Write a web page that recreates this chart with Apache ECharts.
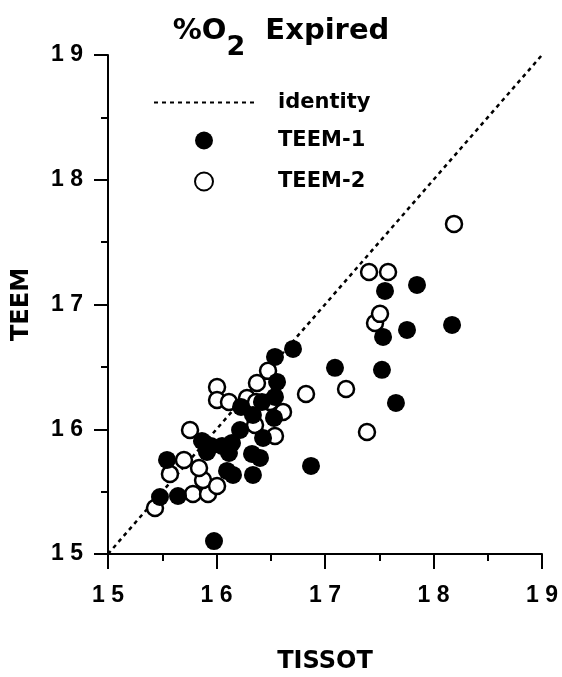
<!DOCTYPE html>
<html>
<head>
<meta charset="utf-8">
<script src="https://cdn.jsdelivr.net/npm/echarts@6/dist/echarts.min.js"></script>
<style>
html,body{margin:0;padding:0;background:#fff;}
#chart{width:562px;height:677px;}
</style>
</head>
<body>
<div id="chart"></div>
<script>
// Tick values for both axes
var axisTicks = [15, 16, 17, 18, 19];
// Identity line endpoints
var identityLine = [[15, 15], [19, 19]];
// TEEM-1 (filled circles): [TISSOT, TEEM]
var teem1 = [
  [15.977, 15.104], [15.479, 15.457], [15.645, 15.465], [15.544, 15.754],
  [15.866, 15.906], [15.949, 15.866], [16.051, 15.866], [16.143, 15.890],
  [15.912, 15.818], [16.097, 15.666], [16.152, 15.634], [16.217, 15.994],
  [16.226, 16.179], [16.336, 16.115], [16.327, 15.802], [16.401, 15.770],
  [16.336, 15.634], [16.429, 15.930], [16.530, 16.091], [16.539, 16.259],
  [16.558, 16.379], [16.539, 16.580], [16.705, 16.644], [16.871, 15.706],
  [17.092, 16.492], [17.525, 16.476], [17.535, 16.740], [17.553, 17.109],
  [17.756, 16.796], [17.848, 17.157], [18.171, 16.836], [17.654, 16.211],
  [16.419, 16.219], [16.115, 15.810]
];
// TEEM-2 (open circles): [TISSOT, TEEM]
var teem2 = [
  [15.433, 15.369], [15.783, 15.481], [15.922, 15.481], [15.571, 15.642],
  [15.876, 15.593], [16.005, 15.545], [15.839, 15.690], [15.700, 15.754],
  [15.756, 15.994], [16.005, 16.339], [16.005, 16.235], [16.115, 16.219],
  [16.281, 16.251], [16.373, 16.371], [16.475, 16.468], [16.364, 16.219],
  [16.613, 16.139], [16.355, 16.034], [16.539, 15.946], [16.825, 16.283],
  [17.194, 16.323], [17.387, 15.978], [17.461, 16.852], [17.507, 16.925],
  [17.406, 17.261], [17.581, 17.261], [18.189, 17.646], [16.493, 16.219]
];

var fontFam = 'Liberation Sans, Arial, Helvetica, sans-serif';
var wideFam = 'DejaVu Sans, Verdana, sans-serif';
function spaced(v) { return String(v).split('').join(' '); }

var chart = echarts.init(document.getElementById('chart'), null, {renderer: 'canvas'});
chart.setOption({
  backgroundColor: '#fff',
  animation: false,
  title: {
    text: '{a|%O}{s|2}{a|  Expired}',
    left: 'center',
    top: 12,
    textStyle: {
      rich: {
        a: {fontSize: 29, fontWeight: 'bold', fontFamily: wideFam, color: '#000', verticalAlign: 'top', lineHeight: 29},
        s: {fontSize: 27, fontWeight: 'bold', fontFamily: wideFam, color: '#000', verticalAlign: 'bottom', lineHeight: 44}
      }
    }
  },
  legend: [
    {
      data: ['identity'],
      left: 148, top: 87,
      itemWidth: 100, itemHeight: 14,
      itemStyle: {color: 'rgba(0,0,0,0)', borderWidth: 0},
      textStyle: {fontSize: 21, fontWeight: 'bold', fontFamily: wideFam, color: '#000', padding: [0, 0, 0, 19]},
      selectedMode: false
    },
    {
      data: ['TEEM-1', 'TEEM-2'],
      orient: 'vertical',
      left: 189, top: 125,
      itemWidth: 18, itemHeight: 18,
      itemGap: 20,
      textStyle: {fontSize: 21, fontWeight: 'bold', fontFamily: wideFam, color: '#000', padding: [0, 0, 0, 60]},
      selectedMode: false
    }
  ],
  grid: {left: 108, right: 20, top: 55, bottom: 123, containLabel: false, outerBoundsMode: 'none'},
  xAxis: {
    type: 'value', min: axisTicks[0], max: axisTicks[axisTicks.length - 1], interval: 1,
    name: 'TISSOT', nameLocation: 'middle', nameGap: 96,
    nameTextStyle: {fontSize: 24, fontWeight: 'bold', fontFamily: wideFam, color: '#000'},
    axisLine: {show: true, onZero: false, lineStyle: {color: '#000', width: 2}},
    axisTick: {show: true, inside: false, length: 15, lineStyle: {color: '#000', width: 2}},
    minorTick: {show: true, splitNumber: 2, length: 7, lineStyle: {color: '#000', width: 2}},
    axisLabel: {formatter: spaced, margin: 30, fontSize: 23, fontWeight: 'bold', fontFamily: fontFam, color: '#000'},
    splitLine: {show: false}
  },
  yAxis: {
    type: 'value', min: axisTicks[0], max: axisTicks[axisTicks.length - 1], interval: 1,
    name: 'TEEM', nameLocation: 'middle', nameGap: 74,
    nameTextStyle: {fontSize: 24, fontWeight: 'bold', fontFamily: wideFam, color: '#000'},
    axisLine: {show: true, onZero: false, lineStyle: {color: '#000', width: 2}},
    axisTick: {show: true, inside: false, length: 14, lineStyle: {color: '#000', width: 2}},
    minorTick: {show: true, splitNumber: 2, length: 7, lineStyle: {color: '#000', width: 2}},
    axisLabel: {formatter: spaced, margin: 25, fontSize: 23, fontWeight: 'bold', fontFamily: fontFam, color: '#000'},
    splitLine: {show: false}
  },
  series: [
    {
      name: 'identity', type: 'line', data: identityLine,
      symbol: 'none', silent: true,
      lineStyle: {color: '#000', width: 2.5, type: [4, 4]},
      itemStyle: {color: '#000'},
      z: 1
    },
    {
      name: 'TEEM-1', type: 'scatter', data: teem1,
      symbol: 'circle', symbolSize: 18,
      itemStyle: {color: '#000', opacity: 1},
      z: 3
    },
    {
      name: 'TEEM-2', type: 'scatter', data: teem2,
      symbol: 'circle', symbolSize: 16,
      itemStyle: {color: '#fff', borderColor: '#000', borderWidth: 2.5, opacity: 1},
      z: 2
    }
  ]
});
</script>
</body>
</html>
